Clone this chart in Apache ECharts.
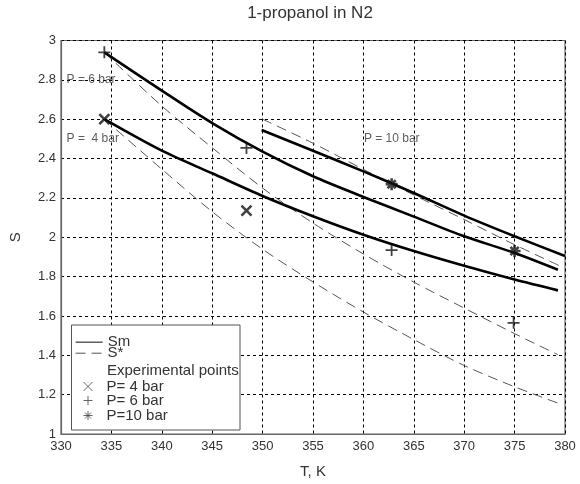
<!DOCTYPE html>
<html><head><meta charset="utf-8">
<script src="https://cdn.jsdelivr.net/npm/echarts@6/dist/echarts.min.js"></script>
<style>html,body{margin:0;padding:0;background:#fff}#c{width:580px;height:484px}</style>
</head><body><div id="c"></div>
<script>
// ---- data ----
const titleText = '1-propanol in N2';
const xName = 'T, K';
const yName = 'S';
const xMin = 330, xMax = 380, xStep = 5;
const yMin = 1, yMax = 3, yStep = 0.2;

// Sm (solid) curves
const smT_4bar  = [334.3, 340, 345, 350, 355, 360, 365, 370, 375, 379.3];
const smS_4bar  = [2.60, 2.44, 2.325, 2.21, 2.107, 2.013, 1.93, 1.855, 1.785, 1.73];
const smT_6bar  = [334.3, 340, 345, 350, 355, 360, 365, 370, 375, 379.3];
const smS_6bar  = [2.94, 2.745, 2.58, 2.435, 2.31, 2.205, 2.105, 2.005, 1.92, 1.835];
const smT_10bar = [349.9, 355, 360, 365, 370, 375, 380];
const smS_10bar = [2.545, 2.44, 2.335, 2.225, 2.11, 2.005, 1.905];

// S* (dashed) curves
const ssT_4bar  = [334.3, 340, 345, 350, 355, 360, 365, 370, 375, 379.3];
const ssS_4bar  = [2.60, 2.346, 2.13, 1.939, 1.773, 1.62, 1.48, 1.348, 1.24, 1.157];
const ssT_6bar  = [334.3, 340, 345, 350, 355, 360, 365, 370, 375, 379.3];
const ssS_6bar  = [2.94, 2.667, 2.455, 2.25, 2.072, 1.915, 1.772, 1.64, 1.51, 1.403];
const ssT_10bar = [350, 355, 360, 365, 370, 375, 379.8];
const ssS_10bar = [2.60, 2.478, 2.345, 2.215, 2.09, 1.962, 1.847];

// experimental points
const expT_4bar  = [334.3, 348.4];
const expS_4bar  = [2.60, 2.135];
const expT_6bar  = [334.3, 348.4, 362.8, 374.9];
const expS_6bar  = [2.94, 2.454, 1.935, 1.565];
const expT_10bar = [362.8, 375.0];
const expS_10bar = [2.27, 1.93];

// in-plot annotations
const annoT = [330.5, 330.5, 360.0];
const annoS = [2.80, 2.50, 2.50];
const annoText = ['P = 6 bar', 'P =  4 bar', 'P = 10 bar'];

// legend entries
const legendNames = ['Sm', 'S*', 'Experimental points', 'P= 4 bar', 'P= 6 bar', 'P=10 bar'];

// ---- chart ----
const FONT = "'Liberation Sans', Arial, Helvetica, sans-serif";
const zip = (a, b) => a.map((v, i) => [v, b[i]]);
const SYM_X = 'path://M0,0L10,10M10,0L0,10';
const SYM_PLUS = 'path://M5,0L5,10M0,5L10,5';
const SYM_STAR = 'path://M5,0L5,10M0,5L10,5M1.6,1.6L8.4,8.4M8.4,1.6L1.6,8.4';

function smLine(t, s) {
  return { name: 'Sm', type: 'line', data: zip(t, s), symbol: 'none', smooth: 0.3,
    lineStyle: { color: '#000', width: 2.6 }, itemStyle: { color: '#000' }, z: 3, silent: true };
}
function ssLine(t, s) {
  return { name: 'S*', type: 'line', data: zip(t, s), symbol: 'none', smooth: 0.3,
    lineStyle: { color: '#555', width: 1, type: [10, 6] }, itemStyle: { color: '#555' }, z: 2, silent: true };
}
function expPts(name, t, s, sym, size, bw) {
  return { name, type: 'scatter', data: zip(t, s), symbol: sym, symbolSize: size,
    itemStyle: { color: '#111', borderColor: '#111', borderWidth: bw }, z: 5, silent: true };
}

const rowY = [341.7, 352.7, 370, 386, 400, 415];
const rowLeft = [75, 75, 75, 83, 83, 83];
const hiddenMarker = { color: 'rgba(0,0,0,0)', borderColor: 'rgba(0,0,0,0)', borderWidth: 0, opacity: 0 };
const legendStyles = [
  { itemStyle: hiddenMarker, lineStyle: { width: 1.3, color: '#444', type: 'solid' } },
  { itemStyle: hiddenMarker, lineStyle: { width: 1, color: '#555', type: [10, 6] } },
  { icon: 'rect', itemStyle: hiddenMarker },
  { itemStyle: { color: '#444', borderColor: '#444', borderWidth: 1 } },
  { itemStyle: { color: '#444', borderColor: '#444', borderWidth: 1 } },
  { itemStyle: { color: '#444', borderColor: '#444', borderWidth: 1 } }
];
const legends = legendNames.map((n, i) => ({
  data: [Object.assign({ name: n }, legendStyles[i])],
  left: rowLeft[i], top: rowY[i] - 7, padding: 0,
  itemWidth: 27, itemHeight: 9, itemGap: 0, selectedMode: false,
  textStyle: { fontSize: 15, color: '#333', fontFamily: FONT, lineHeight: 14 },
  z: 6
}));

const option = {
  backgroundColor: '#fff',
  animation: false,
  title: { text: titleText, left: 310, textAlign: 'center', top: 5, padding: 0,
    textStyle: { fontSize: 17, fontWeight: 'normal', color: '#333', fontFamily: FONT } },
  grid: { left: 55.5, right: 15, top: 40.5, bottom: 42.5, show: true, borderColor: '#666', borderWidth: 1.2 },
  xAxis: { type: 'value', min: xMin, max: xMax, interval: xStep,
    name: xName, nameLocation: 'middle', nameGap: 30,
    nameTextStyle: { fontSize: 15, color: '#333', fontFamily: FONT },
    axisLine: { show: true, lineStyle: { color: '#666', width: 1.2 } },
    axisTick: { show: false },
    axisLabel: { fontSize: 13, color: '#333', fontFamily: FONT, margin: 6 },
    splitLine: { show: true, lineStyle: { color: '#000', width: 1, type: [3, 3] } } },
  yAxis: { type: 'value', min: yMin, max: yMax, interval: yStep,
    name: yName, nameLocation: 'middle', nameGap: 38,
    nameTextStyle: { fontSize: 15, color: '#333', fontFamily: FONT },
    axisLine: { show: true, lineStyle: { color: '#666', width: 1.2 } },
    axisTick: { show: false },
    axisLabel: { fontSize: 13, color: '#333', fontFamily: FONT, margin: 5 },
    splitLine: { show: true, lineStyle: { color: '#000', width: 1, type: [3, 3] } } },
  legend: legends,
  graphic: [{ type: 'rect', shape: { x: 71.5, y: 325, width: 168.5, height: 105 },
    style: { fill: '#fff', stroke: '#555', lineWidth: 1 }, z: 5 }],
  series: [
    ssLine(ssT_4bar, ssS_4bar), ssLine(ssT_6bar, ssS_6bar), ssLine(ssT_10bar, ssS_10bar),
    smLine(smT_4bar, smS_4bar), smLine(smT_6bar, smS_6bar), smLine(smT_10bar, smS_10bar),
    { name: 'Experimental points', type: 'scatter', data: [] },
    expPts('P= 4 bar', expT_4bar, expS_4bar, SYM_X, 10, 2.6),
    expPts('P= 6 bar', expT_6bar, expS_6bar, SYM_PLUS, 12, 1.8),
    expPts('P=10 bar', expT_10bar, expS_10bar, SYM_STAR, 12, 2.6),
    { name: 'annotations', type: 'scatter', data: zip(annoT, annoS).map((p, i) => ({ value: p, label: { formatter: annoText[i] } })),
      symbolSize: 1, itemStyle: { color: 'rgba(0,0,0,0)' }, silent: true, z: 4,
      label: { show: true, position: 'right', distance: 0, fontSize: 12, color: '#333', fontFamily: FONT } }
  ]
};
const chart = echarts.init(document.getElementById('c'), null, { renderer: 'canvas' });
chart.setOption(option);
</script></body></html>
